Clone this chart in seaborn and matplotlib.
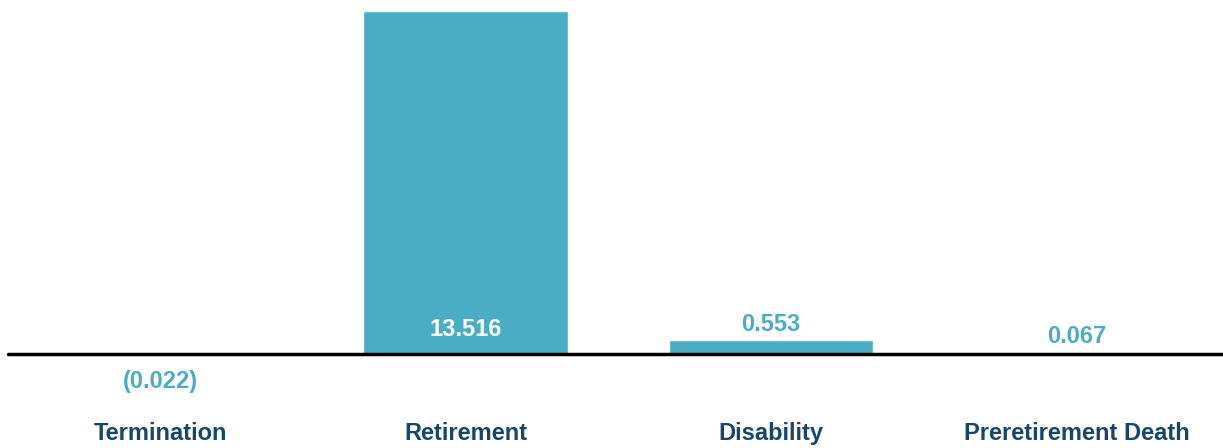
import matplotlib
matplotlib.use("Agg")
import matplotlib.pyplot as plt
import pandas as pd
import seaborn as sns

categories = ["Termination", "Retirement", "Disability", "Preretirement Death"]
values = [-0.022, 13.516, 0.553, 0.067]

BAR = "#4BACC6"
DARK = "#17456E"

sns.set_theme(style="white")
plt.rcParams["font.family"] = ["Liberation Sans", "DejaVu Sans"]

df = pd.DataFrame({"cat": categories, "val": values})

fig = plt.figure(figsize=(12.23, 4.48), dpi=100)
ax = fig.add_axes([0, 0, 1, 1])
sns.barplot(data=df, x="cat", y="val", color=BAR, width=0.67, saturation=1, ax=ax)

ax.set_xlim(-0.524, 3.48)
ax.set_ylim(-3.70, 13.95)
ax.axhline(0, xmin=8 / 1223, xmax=1, color="black", linewidth=2.5)
ax.set_axis_off()

for i, v in enumerate(values):
    txt = f"({abs(v):.3f})" if v < 0 else f"{v:.3f}"
    if v < 0:
        ax.annotate(txt, (i, 0), xytext=(0, -20), textcoords="offset points",
                    ha="center", va="center", color=BAR, fontsize=17, fontweight="bold")
    elif v > 5:
        ax.annotate(txt, (i, 0), xytext=(0, 17.5), textcoords="offset points",
                    ha="center", va="center", color="white", fontsize=17, fontweight="bold")
    else:
        ax.annotate(txt, (i, v), xytext=(0, 3), textcoords="offset points",
                    ha="center", va="bottom", color=BAR, fontsize=17, fontweight="bold")
    ax.text(i, -3.11, categories[i], ha="center", va="center", color=DARK,
            fontsize=17, fontweight="bold")

fig.savefig("out.png", dpi=100)
